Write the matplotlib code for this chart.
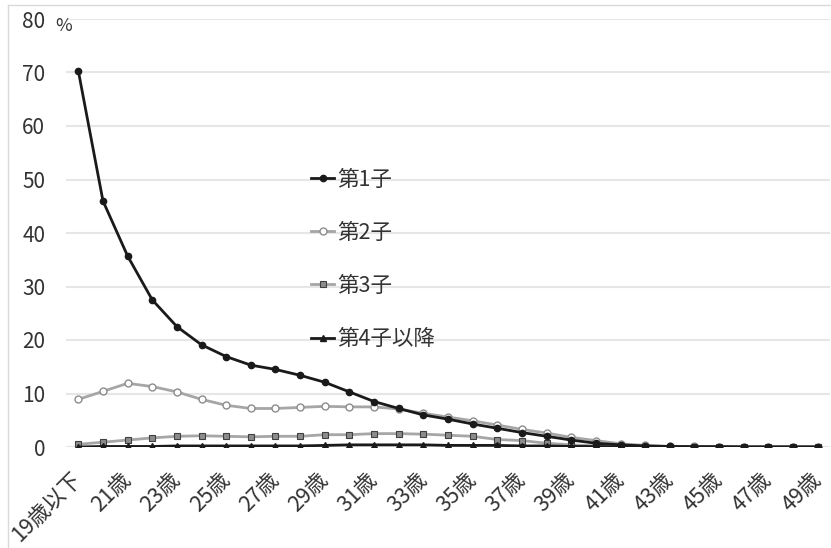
import numpy as np
import matplotlib
matplotlib.use("Agg")
import matplotlib.pyplot as plt
from matplotlib.lines import Line2D

plt.rcParams['font.family'] = ['Noto Sans CJK JP', 'DejaVu Sans']

# Data (percent by mother's age)
ages = ["19歳以下"] + [f"{a}歳" for a in range(20, 50)]
first = [70.3, 46.0, 35.7, 27.5, 22.5, 19.1, 16.9, 15.3, 14.5, 13.4,
         12.1, 10.3, 8.5, 7.2, 6.0, 5.2, 4.3, 3.5, 2.7, 2.0,
         1.3, 0.7, 0.4, 0.2, 0.1, 0.05, 0.05, 0.0, 0.0, 0.0, 0.0]
second = [8.9, 10.4, 11.9, 11.3, 10.3, 8.9, 7.8, 7.2, 7.2, 7.4,
          7.6, 7.5, 7.5, 7.1, 6.3, 5.6, 4.9, 4.1, 3.3, 2.6,
          1.8, 1.2, 0.6, 0.3, 0.1, 0.1, 0.05, 0.0, 0.0, 0.0, 0.0]
third = [0.5, 0.9, 1.3, 1.7, 2.0, 2.1, 2.0, 1.9, 2.0, 2.0,
         2.3, 2.3, 2.5, 2.5, 2.4, 2.2, 2.0, 1.4, 1.2, 0.7,
         0.4, 0.2, 0.1, 0.05, 0.0, 0.0, 0.0, 0.0, 0.0, 0.0, 0.0]
fourth = [0.0, 0.1, 0.1, 0.1, 0.2, 0.2, 0.2, 0.2, 0.2, 0.2,
          0.3, 0.4, 0.4, 0.4, 0.4, 0.3, 0.3, 0.3, 0.2, 0.2,
          0.1, 0.1, 0.0, 0.0, 0.0, 0.0, 0.0, 0.0, 0.0, 0.0, 0.0]
labels = ["第1子", "第2子", "第3子", "第4子以降"]

x = np.arange(len(ages))
txt = "#333333"

fig = plt.figure(figsize=(8.31, 5.48), dpi=100)
ax = fig.add_axes([66 / 831, 101 / 548, 764 / 831, 428 / 548])

# outer chart border (light gray)
fig.add_artist(Line2D([8 / 831, 1], [1 - 5 / 548, 1 - 5 / 548], color="#d9d9d9", lw=1))
fig.add_artist(Line2D([8 / 831, 8 / 831], [0, 1 - 5 / 548], color="#d9d9d9", lw=1))

ax.plot(x, second, color="#a6a6a6", lw=2, marker="o", ms=5,
        mfc="white", mec="#8c8c8c", mew=1, label=labels[1], zorder=3)
ax.plot(x, third, color="#a6a6a6", lw=2, marker="s", ms=5,
        mfc="#8c8c8c", mec="#404040", mew=0.8, label=labels[2], zorder=3)
ax.plot(x, first, color="#1a1a1a", lw=2, marker="o", ms=4.5,
        mfc="#1a1a1a", mec="#1a1a1a", label=labels[0], zorder=4)
ax.plot(x, fourth, color="#1a1a1a", lw=2, marker="^", ms=4.5,
        mfc="#1a1a1a", mec="#1a1a1a", label=labels[3], zorder=4)

ax.set_xlim(-0.5, len(ages) - 0.5)
ax.set_ylim(0, 80)
ax.set_yticks(range(0, 81, 10))
ax.tick_params(axis="y", length=0, pad=15, labelsize=15, labelcolor=txt)
ax.set_xticks(x[::2])
ax.set_xticklabels(ages[::2], rotation=45, ha="right", va="center",
                   rotation_mode="anchor", fontsize=15.5, color=txt)
ax.tick_params(axis="x", length=0, pad=21)
ax.grid(axis="y", color="#e6e6e6", lw=1.5)
ax.set_axisbelow(True)
for s in ax.spines.values():
    s.set_visible(False)

ax.text(-0.95, 80.3, "%", fontsize=13, color=txt, ha="left", va="top",
        transform=ax.transData)

handles, labs = ax.get_legend_handles_labels()
order = [labs.index(l) for l in labels]
leg = ax.legend([handles[i] for i in order], [labs[i] for i in order],
                loc="upper left", bbox_to_anchor=(0.295, 0.696),
                frameon=False, fontsize=15.5, handlelength=1.1,
                handletextpad=0.15, labelspacing=1.45)
for t in leg.get_texts():
    t.set_color(txt)

fig.savefig("out.png", dpi=100)
